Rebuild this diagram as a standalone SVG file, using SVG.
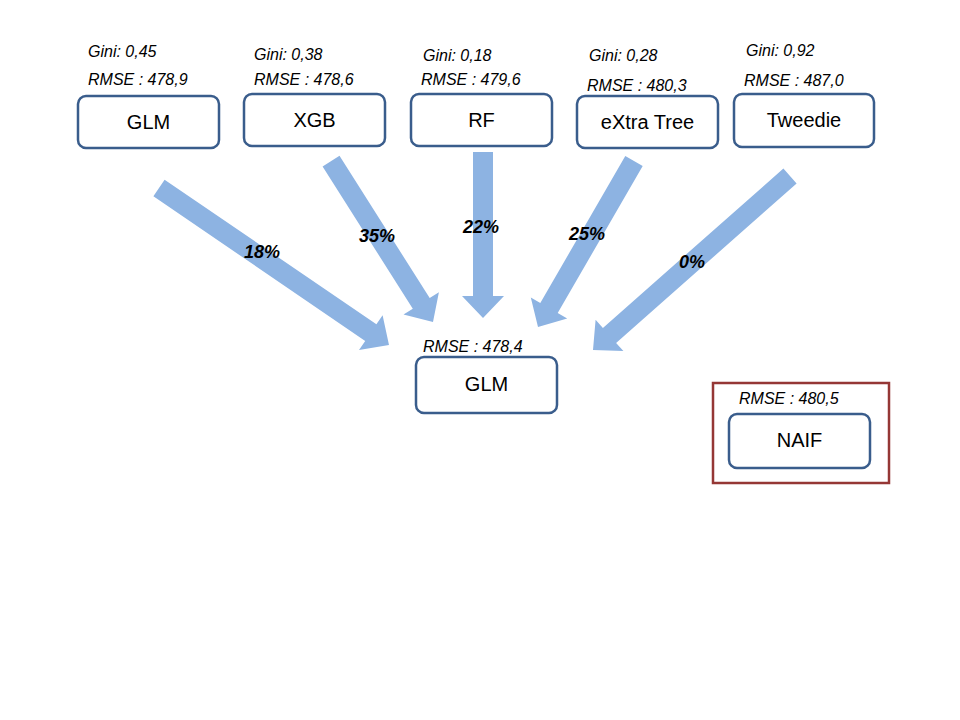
<svg xmlns="http://www.w3.org/2000/svg" width="960" height="720" viewBox="0 0 960 720">
<style>
.box{fill:#fff;stroke:#3A5D8C;stroke-width:2.5}
.lbl{font-family:"Liberation Sans",Arial,sans-serif;font-size:20px;fill:#000;text-anchor:middle}
.meta{font-family:"Liberation Sans",Arial,sans-serif;font-size:16px;font-style:italic;fill:#000}
.pct{font-family:"Liberation Sans",Arial,sans-serif;font-size:18px;font-style:italic;font-weight:bold;fill:#000;text-anchor:middle}
.arr{fill:#8DB3E2}
</style>
<rect width="960" height="720" fill="#fff"/>
<g id="connectors">
<polygon class="arr" points="153.4,196.3 365.2,340.9 359,350 389,345 382.6,315.3 376.4,324.3 164.6,179.7"/>
<polygon class="arr" points="322.6,166.4 412.8,308.8 403.5,314.6 433,322 438.9,292.2 429.7,298.1 339.5,155.7"/>
<polygon class="arr" points="473,152 473,296 462,296 483,318 504,296 493,296 493,152"/>
<polygon class="arr" points="625.3,156 540.3,303 530.8,297.5 538,327 567.2,318.5 557.7,313 642.7,166"/>
<polygon class="arr" points="783.4,168.5 602.9,327.9 595.6,319.7 593,350 623.4,351.1 616.1,342.9 796.6,183.5"/>
<text class="pct" x="262" y="258">18%</text>
<text class="pct" x="377" y="242">35%</text>
<text class="pct" x="481" y="233">22%</text>
<text class="pct" x="587" y="240">25%</text>
<text class="pct" x="692" y="268">0%</text>
</g>
<g id="glm">
<text class="meta" x="88" y="57">Gini: 0,45</text>
<text class="meta" x="88" y="85">RMSE : 478,9</text>
<rect class="box" x="78" y="96" width="141" height="52" rx="8"/>
<text class="lbl" x="148.5" y="129">GLM</text>
</g>
<g id="xgb">
<text class="meta" x="254" y="60">Gini: 0,38</text>
<text class="meta" x="254" y="85">RMSE : 478,6</text>
<rect class="box" x="244" y="94" width="141" height="52" rx="8"/>
<text class="lbl" x="314.5" y="127">XGB</text>
</g>
<g id="rf">
<text class="meta" x="423" y="61">Gini: 0,18</text>
<text class="meta" x="421" y="85">RMSE : 479,6</text>
<rect class="box" x="411" y="94" width="141" height="52" rx="8"/>
<text class="lbl" x="481.5" y="127">RF</text>
</g>
<g id="extratree">
<text class="meta" x="589" y="61">Gini: 0,28</text>
<text class="meta" x="587" y="91">RMSE : 480,3</text>
<rect class="box" x="577" y="96" width="141" height="52" rx="8"/>
<text class="lbl" x="647.5" y="129">eXtra Tree</text>
</g>
<g id="tweedie">
<text class="meta" x="746" y="56">Gini: 0,92</text>
<text class="meta" x="744" y="86">RMSE : 487,0</text>
<rect class="box" x="734" y="94" width="140" height="53" rx="8"/>
<text class="lbl" x="804" y="127">Tweedie</text>
</g>
<g id="glm-final">
<text class="meta" x="423" y="352">RMSE : 478,4</text>
<rect class="box" x="416" y="357" width="141" height="56" rx="8"/>
<text class="lbl" x="486.5" y="391">GLM</text>
</g>
<g id="naif">
<rect x="713" y="383" width="176" height="100" fill="none" stroke="#953735" stroke-width="2.5"/>
<text class="meta" x="739" y="404">RMSE : 480,5</text>
<rect class="box" x="729" y="414" width="141" height="54" rx="8"/>
<text class="lbl" x="799.5" y="447">NAIF</text>
</g>
</svg>
